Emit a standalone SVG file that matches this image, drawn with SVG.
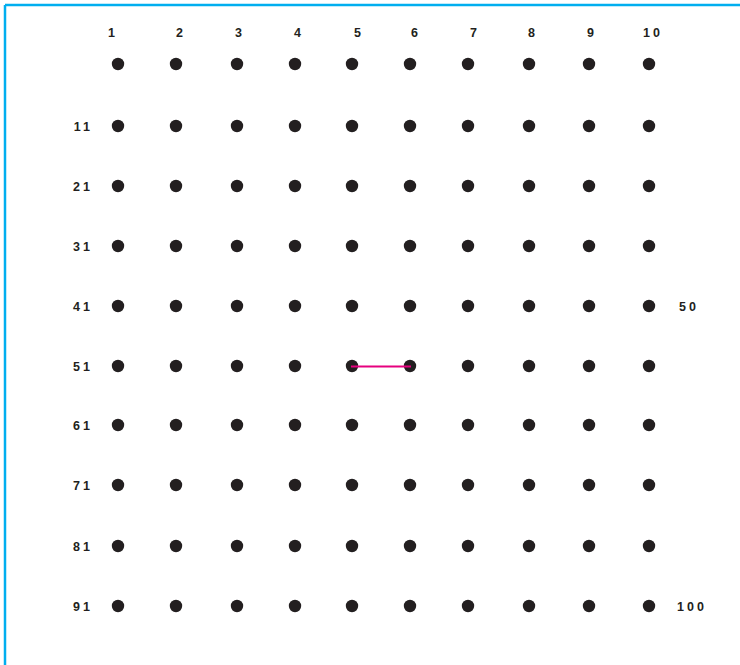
<svg xmlns="http://www.w3.org/2000/svg" width="740" height="665" viewBox="0 0 740 665">
<style>
.lbl{font-family:"Liberation Sans",Arial,sans-serif;font-size:12.5px;font-weight:bold;fill:#231f20;letter-spacing:3px}
.c{text-anchor:middle}
.r{text-anchor:end}
.d{fill:#231f20}
</style>
<defs><circle id="dot" r="6.2" class="d"/></defs>
<rect width="740" height="665" fill="#fff"/>
<g id="frame" fill="none" stroke="#00aeef" stroke-width="2.5">
<line x1="5" y1="665" x2="5" y2="5"/>
<line x1="5" y1="5" x2="740" y2="5"/>
</g>
<g id="column-labels" class="lbl c">
<text x="113" y="37">1</text><text x="181" y="37">2</text><text x="240" y="37">3</text><text x="299" y="37">4</text><text x="359" y="37">5</text><text x="416" y="37">6</text><text x="475" y="37">7</text><text x="533" y="37">8</text><text x="592" y="37">9</text><text x="653" y="37">10</text>
</g>
<g id="row-labels" class="lbl r">
<text x="93" y="130.5">11</text><text x="93" y="190.5">21</text><text x="93" y="250.5">31</text><text x="93" y="310.5">41</text><text x="93" y="370.5">51</text><text x="93" y="429.5">61</text><text x="93" y="489.5">71</text><text x="93" y="550.5">81</text><text x="93" y="610.5">91</text>
</g>
<g id="end-labels" class="lbl">
<text x="679" y="310.5">50</text><text x="677" y="610.5">100</text>
</g>
<g id="dots">
<g id="row1"><use href="#dot" x="118" y="64"/><use href="#dot" x="176" y="64"/><use href="#dot" x="237" y="64"/><use href="#dot" x="295" y="64"/><use href="#dot" x="352" y="64"/><use href="#dot" x="410" y="64"/><use href="#dot" x="468" y="64"/><use href="#dot" x="529" y="64"/><use href="#dot" x="589" y="64"/><use href="#dot" x="649" y="64"/></g>
<g id="row2"><use href="#dot" x="118" y="126"/><use href="#dot" x="176" y="126"/><use href="#dot" x="237" y="126"/><use href="#dot" x="295" y="126"/><use href="#dot" x="352" y="126"/><use href="#dot" x="410" y="126"/><use href="#dot" x="468" y="126"/><use href="#dot" x="529" y="126"/><use href="#dot" x="589" y="126"/><use href="#dot" x="649" y="126"/></g>
<g id="row3"><use href="#dot" x="118" y="186"/><use href="#dot" x="176" y="186"/><use href="#dot" x="237" y="186"/><use href="#dot" x="295" y="186"/><use href="#dot" x="352" y="186"/><use href="#dot" x="410" y="186"/><use href="#dot" x="468" y="186"/><use href="#dot" x="529" y="186"/><use href="#dot" x="589" y="186"/><use href="#dot" x="649" y="186"/></g>
<g id="row4"><use href="#dot" x="118" y="246"/><use href="#dot" x="176" y="246"/><use href="#dot" x="237" y="246"/><use href="#dot" x="295" y="246"/><use href="#dot" x="352" y="246"/><use href="#dot" x="410" y="246"/><use href="#dot" x="468" y="246"/><use href="#dot" x="529" y="246"/><use href="#dot" x="589" y="246"/><use href="#dot" x="649" y="246"/></g>
<g id="row5"><use href="#dot" x="118" y="306"/><use href="#dot" x="176" y="306"/><use href="#dot" x="237" y="306"/><use href="#dot" x="295" y="306"/><use href="#dot" x="352" y="306"/><use href="#dot" x="410" y="306"/><use href="#dot" x="468" y="306"/><use href="#dot" x="529" y="306"/><use href="#dot" x="589" y="306"/><use href="#dot" x="649" y="306"/></g>
<g id="row6"><use href="#dot" x="118" y="366"/><use href="#dot" x="176" y="366"/><use href="#dot" x="237" y="366"/><use href="#dot" x="295" y="366"/><use href="#dot" x="352" y="366"/><use href="#dot" x="410" y="366"/><use href="#dot" x="468" y="366"/><use href="#dot" x="529" y="366"/><use href="#dot" x="589" y="366"/><use href="#dot" x="649" y="366"/></g>
<g id="row7"><use href="#dot" x="118" y="425"/><use href="#dot" x="176" y="425"/><use href="#dot" x="237" y="425"/><use href="#dot" x="295" y="425"/><use href="#dot" x="352" y="425"/><use href="#dot" x="410" y="425"/><use href="#dot" x="468" y="425"/><use href="#dot" x="529" y="425"/><use href="#dot" x="589" y="425"/><use href="#dot" x="649" y="425"/></g>
<g id="row8"><use href="#dot" x="118" y="485"/><use href="#dot" x="176" y="485"/><use href="#dot" x="237" y="485"/><use href="#dot" x="295" y="485"/><use href="#dot" x="352" y="485"/><use href="#dot" x="410" y="485"/><use href="#dot" x="468" y="485"/><use href="#dot" x="529" y="485"/><use href="#dot" x="589" y="485"/><use href="#dot" x="649" y="485"/></g>
<g id="row9"><use href="#dot" x="118" y="546"/><use href="#dot" x="176" y="546"/><use href="#dot" x="237" y="546"/><use href="#dot" x="295" y="546"/><use href="#dot" x="352" y="546"/><use href="#dot" x="410" y="546"/><use href="#dot" x="468" y="546"/><use href="#dot" x="529" y="546"/><use href="#dot" x="589" y="546"/><use href="#dot" x="649" y="546"/></g>
<g id="row10"><use href="#dot" x="118" y="606"/><use href="#dot" x="176" y="606"/><use href="#dot" x="237" y="606"/><use href="#dot" x="295" y="606"/><use href="#dot" x="352" y="606"/><use href="#dot" x="410" y="606"/><use href="#dot" x="468" y="606"/><use href="#dot" x="529" y="606"/><use href="#dot" x="589" y="606"/><use href="#dot" x="649" y="606"/></g>
</g>
<g id="connectors">
<line x1="351" y1="366.5" x2="411" y2="366.5" stroke="#e6007e" stroke-width="2"/>
</g>
</svg>
